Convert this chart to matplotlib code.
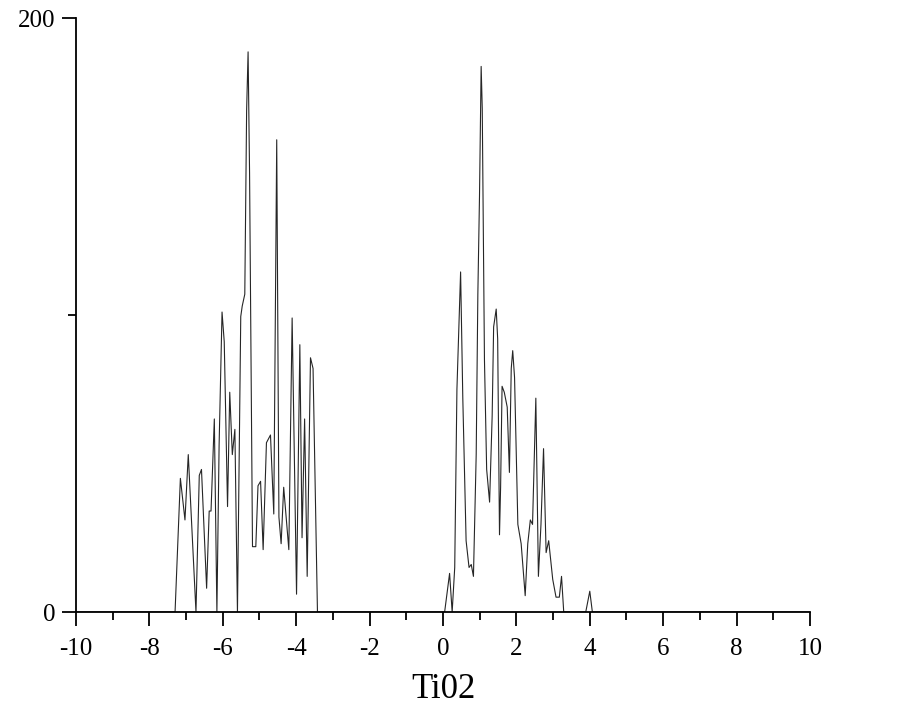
import numpy as np
import matplotlib
matplotlib.use("Agg")
import matplotlib.pyplot as plt
from matplotlib.ticker import MultipleLocator

# density of states (energy, DOS)
energy = [-10.0, -7.30, -7.155, -7.03, -6.94, -6.73, -6.64, -6.58, -6.44, -6.37,
          -6.32, -6.23, -6.16, -6.10, -6.02, -5.96, -5.87, -5.81, -5.74, -5.67,
          -5.60, -5.51, -5.47, -5.40, -5.35, -5.31, -5.27, -5.19, -5.10, -5.04,
          -4.97, -4.90, -4.81, -4.70, -4.61, -4.53, -4.47, -4.41, -4.34, -4.20,
          -4.11, -3.99, -3.90, -3.84, -3.77, -3.70, -3.61, -3.54, -3.42,
          0.045, 0.18, 0.25, 0.32, 0.38, 0.48, 0.54, 0.63, 0.71, 0.77,
          0.83, 0.905, 0.95, 0.995, 1.04, 1.07, 1.13, 1.19, 1.27, 1.34,
          1.38, 1.45, 1.49, 1.54, 1.57, 1.61, 1.67, 1.75, 1.81, 1.86,
          1.90, 1.95, 2.04, 2.13, 2.24, 2.31, 2.38, 2.44, 2.53, 2.60,
          2.67, 2.74, 2.81, 2.88, 2.99, 3.08, 3.17, 3.23, 3.29,
          3.89, 4.00, 4.07, 10.0]
dos = [0, 0, 45, 31, 53, 0, 46, 48, 8, 34,
       34, 65, 0, 56, 101, 91, 35.5, 74, 53, 61.5,
       0, 99.5, 103, 107, 169, 188.6, 148, 22, 22, 42.5,
       44, 21, 57, 59.6, 33, 159, 32, 23, 42, 21,
       99, 6, 90, 25, 65, 12, 85.6, 82, 0,
       0, 13, 0, 15, 75, 114.5, 72, 24, 15, 16,
       12, 53, 107, 140, 183.7, 169.5, 85, 48, 37, 66,
       96, 102, 92, 26, 42, 76, 74, 69, 47, 82,
       88, 79, 29.5, 23, 5.5, 23, 31, 29.5, 72, 12,
       29.5, 55, 20, 24, 11, 5, 5, 12, 0,
       0, 7, 0, 0]

x_ticks = [-10, -8, -6, -4, -2, 0, 2, 4, 6, 8, 10]
y_ticks = [0, 200]

plt.rcParams['font.family'] = ['Liberation Serif', 'DejaVu Serif']
plt.rcParams['axes.unicode_minus'] = False

fig = plt.figure(figsize=(9, 7.09), dpi=100)
ax = fig.add_axes([0.0844, 0.1368, 0.8156, 0.8378])

ax.plot(energy, dos, color='#262626', linewidth=0.8)

ax.set_xlim(-10, 10)
ax.set_ylim(0, 200)
ax.spines['top'].set_visible(False)
ax.spines['right'].set_visible(False)
ax.spines['left'].set_linewidth(1.3)
ax.spines['bottom'].set_linewidth(1.3)

ax.set_xticks(x_ticks)
ax.xaxis.set_minor_locator(MultipleLocator(1))
ax.set_yticks(y_ticks)
ax.yaxis.set_minor_locator(MultipleLocator(100))
ax.tick_params(axis='both', which='major', direction='out', length=10, width=1.3,
               labelsize=18, colors='black')
ax.tick_params(axis='both', which='minor', direction='out', length=6, width=1.3)
ax.tick_params(axis='x', pad=9)
ax.tick_params(axis='y', pad=5)

ax.set_xlabel("Ti02", fontsize=25, labelpad=9)

fig.savefig("out.png", dpi=100)
